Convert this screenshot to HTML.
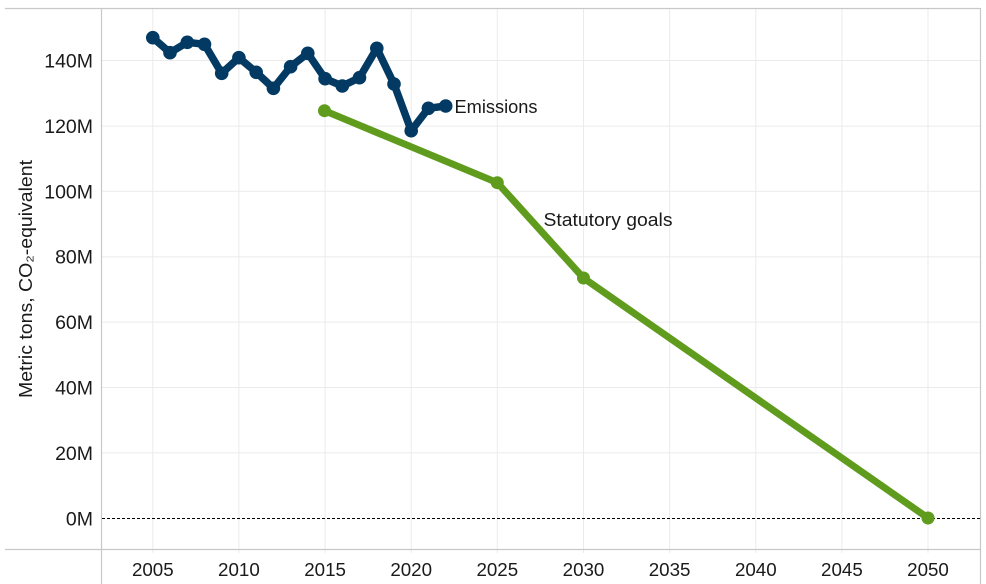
<!DOCTYPE html>
<html>
<head>
<meta charset="utf-8">
<style>
html,body{margin:0;padding:0;background:#fff;}
svg{display:block;}
text{font-family:"Liberation Sans","DejaVu Sans",sans-serif;fill:#1a1a1a;}
</style>
</head>
<body>
<svg width="986" height="584" viewBox="0 0 986 584" xmlns="http://www.w3.org/2000/svg">
  <rect x="0" y="0" width="986" height="584" fill="#fff"/>
  <!-- vertical gridlines -->
  <g stroke="#ebebeb" stroke-width="1">
    <line x1="152.8" y1="8" x2="152.8" y2="553"/>
    <line x1="238.9" y1="8" x2="238.9" y2="553"/>
    <line x1="325.1" y1="8" x2="325.1" y2="553"/>
    <line x1="411.2" y1="8" x2="411.2" y2="553"/>
    <line x1="497.3" y1="8" x2="497.3" y2="553"/>
    <line x1="583.5" y1="8" x2="583.5" y2="553"/>
    <line x1="669.6" y1="8" x2="669.6" y2="553"/>
    <line x1="755.8" y1="8" x2="755.8" y2="553"/>
    <line x1="841.9" y1="8" x2="841.9" y2="553"/>
    <line x1="928" y1="8" x2="928" y2="553"/>
  </g>
  <!-- horizontal gridlines -->
  <g stroke="#ebebeb" stroke-width="1">
    <line x1="101" y1="452.9" x2="980" y2="452.9"/>
    <line x1="101" y1="387.5" x2="980" y2="387.5"/>
    <line x1="101" y1="322.1" x2="980" y2="322.1"/>
    <line x1="101" y1="256.9" x2="980" y2="256.9"/>
    <line x1="101" y1="191.3" x2="980" y2="191.3"/>
    <line x1="101" y1="126.1" x2="980" y2="126.1"/>
    <line x1="101" y1="60.5" x2="980" y2="60.5"/>
  </g>
  <!-- frame -->
  <g stroke="#c8c8c8" stroke-width="1.2">
    <line x1="5" y1="8.5" x2="980" y2="8.5"/>
    <line x1="5" y1="549.5" x2="980" y2="549.5"/>
    <line x1="101.5" y1="8" x2="101.5" y2="584"/>
    <line x1="980.5" y1="8" x2="980.5" y2="584"/>
  </g>
  <!-- zero line -->
  <line x1="102" y1="518.5" x2="980" y2="518.5" stroke="#000" stroke-width="1" stroke-dasharray="3,2"/>

  <!-- y tick labels -->
  <g font-size="19.5" text-anchor="end">
    <text x="93" y="525.3">0M</text>
    <text x="93" y="459.9">20M</text>
    <text x="93" y="394.5">40M</text>
    <text x="93" y="329.1">60M</text>
    <text x="93" y="263.7">80M</text>
    <text x="93" y="198.3">100M</text>
    <text x="93" y="132.9">120M</text>
    <text x="93" y="67.5">140M</text>
  </g>
  <!-- x tick labels -->
  <g font-size="18.75" text-anchor="middle">
    <text x="152.8" y="576">2005</text>
    <text x="238.9" y="576">2010</text>
    <text x="325.1" y="576">2015</text>
    <text x="411.2" y="576">2020</text>
    <text x="497.3" y="576">2025</text>
    <text x="583.5" y="576">2030</text>
    <text x="669.6" y="576">2035</text>
    <text x="755.8" y="576">2040</text>
    <text x="841.9" y="576">2045</text>
    <text x="928" y="576">2050</text>
  </g>
  <!-- y axis title -->
  <text transform="translate(32,279) rotate(-90)" font-size="18" text-anchor="middle" textLength="238" lengthAdjust="spacingAndGlyphs">Metric tons, CO₂-equivalent</text>

  <!-- statutory goals -->
  <polyline fill="none" stroke="#5f9b1c" stroke-width="7" stroke-linejoin="round" stroke-linecap="round"
    points="324.5,110.7 497.3,182.7 583.5,278 928,518"/>
  <g fill="#5f9b1c">
    <circle cx="324.5" cy="110.7" r="6.5"/>
    <circle cx="497.3" cy="182.7" r="6.5"/>
    <circle cx="583.5" cy="278" r="6.5"/>
    <circle cx="928" cy="518" r="6.5"/>
  </g>

  <!-- emissions -->
  <polyline fill="none" stroke="#033a63" stroke-width="7.5" stroke-linejoin="round" stroke-linecap="round"
    points="152.8,37.7 170,52.7 187.3,42.3 204.5,44.3 221.7,73.3 238.9,57.7 256.2,72.3 273.4,88.3 290.6,66.7 307.8,53.3 325.1,78.7 342.3,86 359.5,77.7 376.8,48.3 394,84 411.2,130.7 428.4,108.3 445.7,106"/>
  <g fill="#033a63">
    <circle cx="152.8" cy="37.7" r="6.8"/>
    <circle cx="170" cy="52.7" r="6.8"/>
    <circle cx="187.3" cy="42.3" r="6.8"/>
    <circle cx="204.5" cy="44.3" r="6.8"/>
    <circle cx="221.7" cy="73.3" r="6.8"/>
    <circle cx="238.9" cy="57.7" r="6.8"/>
    <circle cx="256.2" cy="72.3" r="6.8"/>
    <circle cx="273.4" cy="88.3" r="6.8"/>
    <circle cx="290.6" cy="66.7" r="6.8"/>
    <circle cx="307.8" cy="53.3" r="6.8"/>
    <circle cx="325.1" cy="78.7" r="6.8"/>
    <circle cx="342.3" cy="86" r="6.8"/>
    <circle cx="359.5" cy="77.7" r="6.8"/>
    <circle cx="376.8" cy="48.3" r="6.8"/>
    <circle cx="394" cy="84" r="6.8"/>
    <circle cx="411.2" cy="130.7" r="6.8"/>
    <circle cx="428.4" cy="108.3" r="6.8"/>
    <circle cx="445.7" cy="106" r="6.8"/>
  </g>

  <!-- labels -->
  <text x="454.5" y="113" font-size="18.5" textLength="83" lengthAdjust="spacingAndGlyphs">Emissions</text>
  <text x="543.5" y="226" font-size="18.5" textLength="129" lengthAdjust="spacingAndGlyphs">Statutory goals</text>
</svg>
</body>
</html>
